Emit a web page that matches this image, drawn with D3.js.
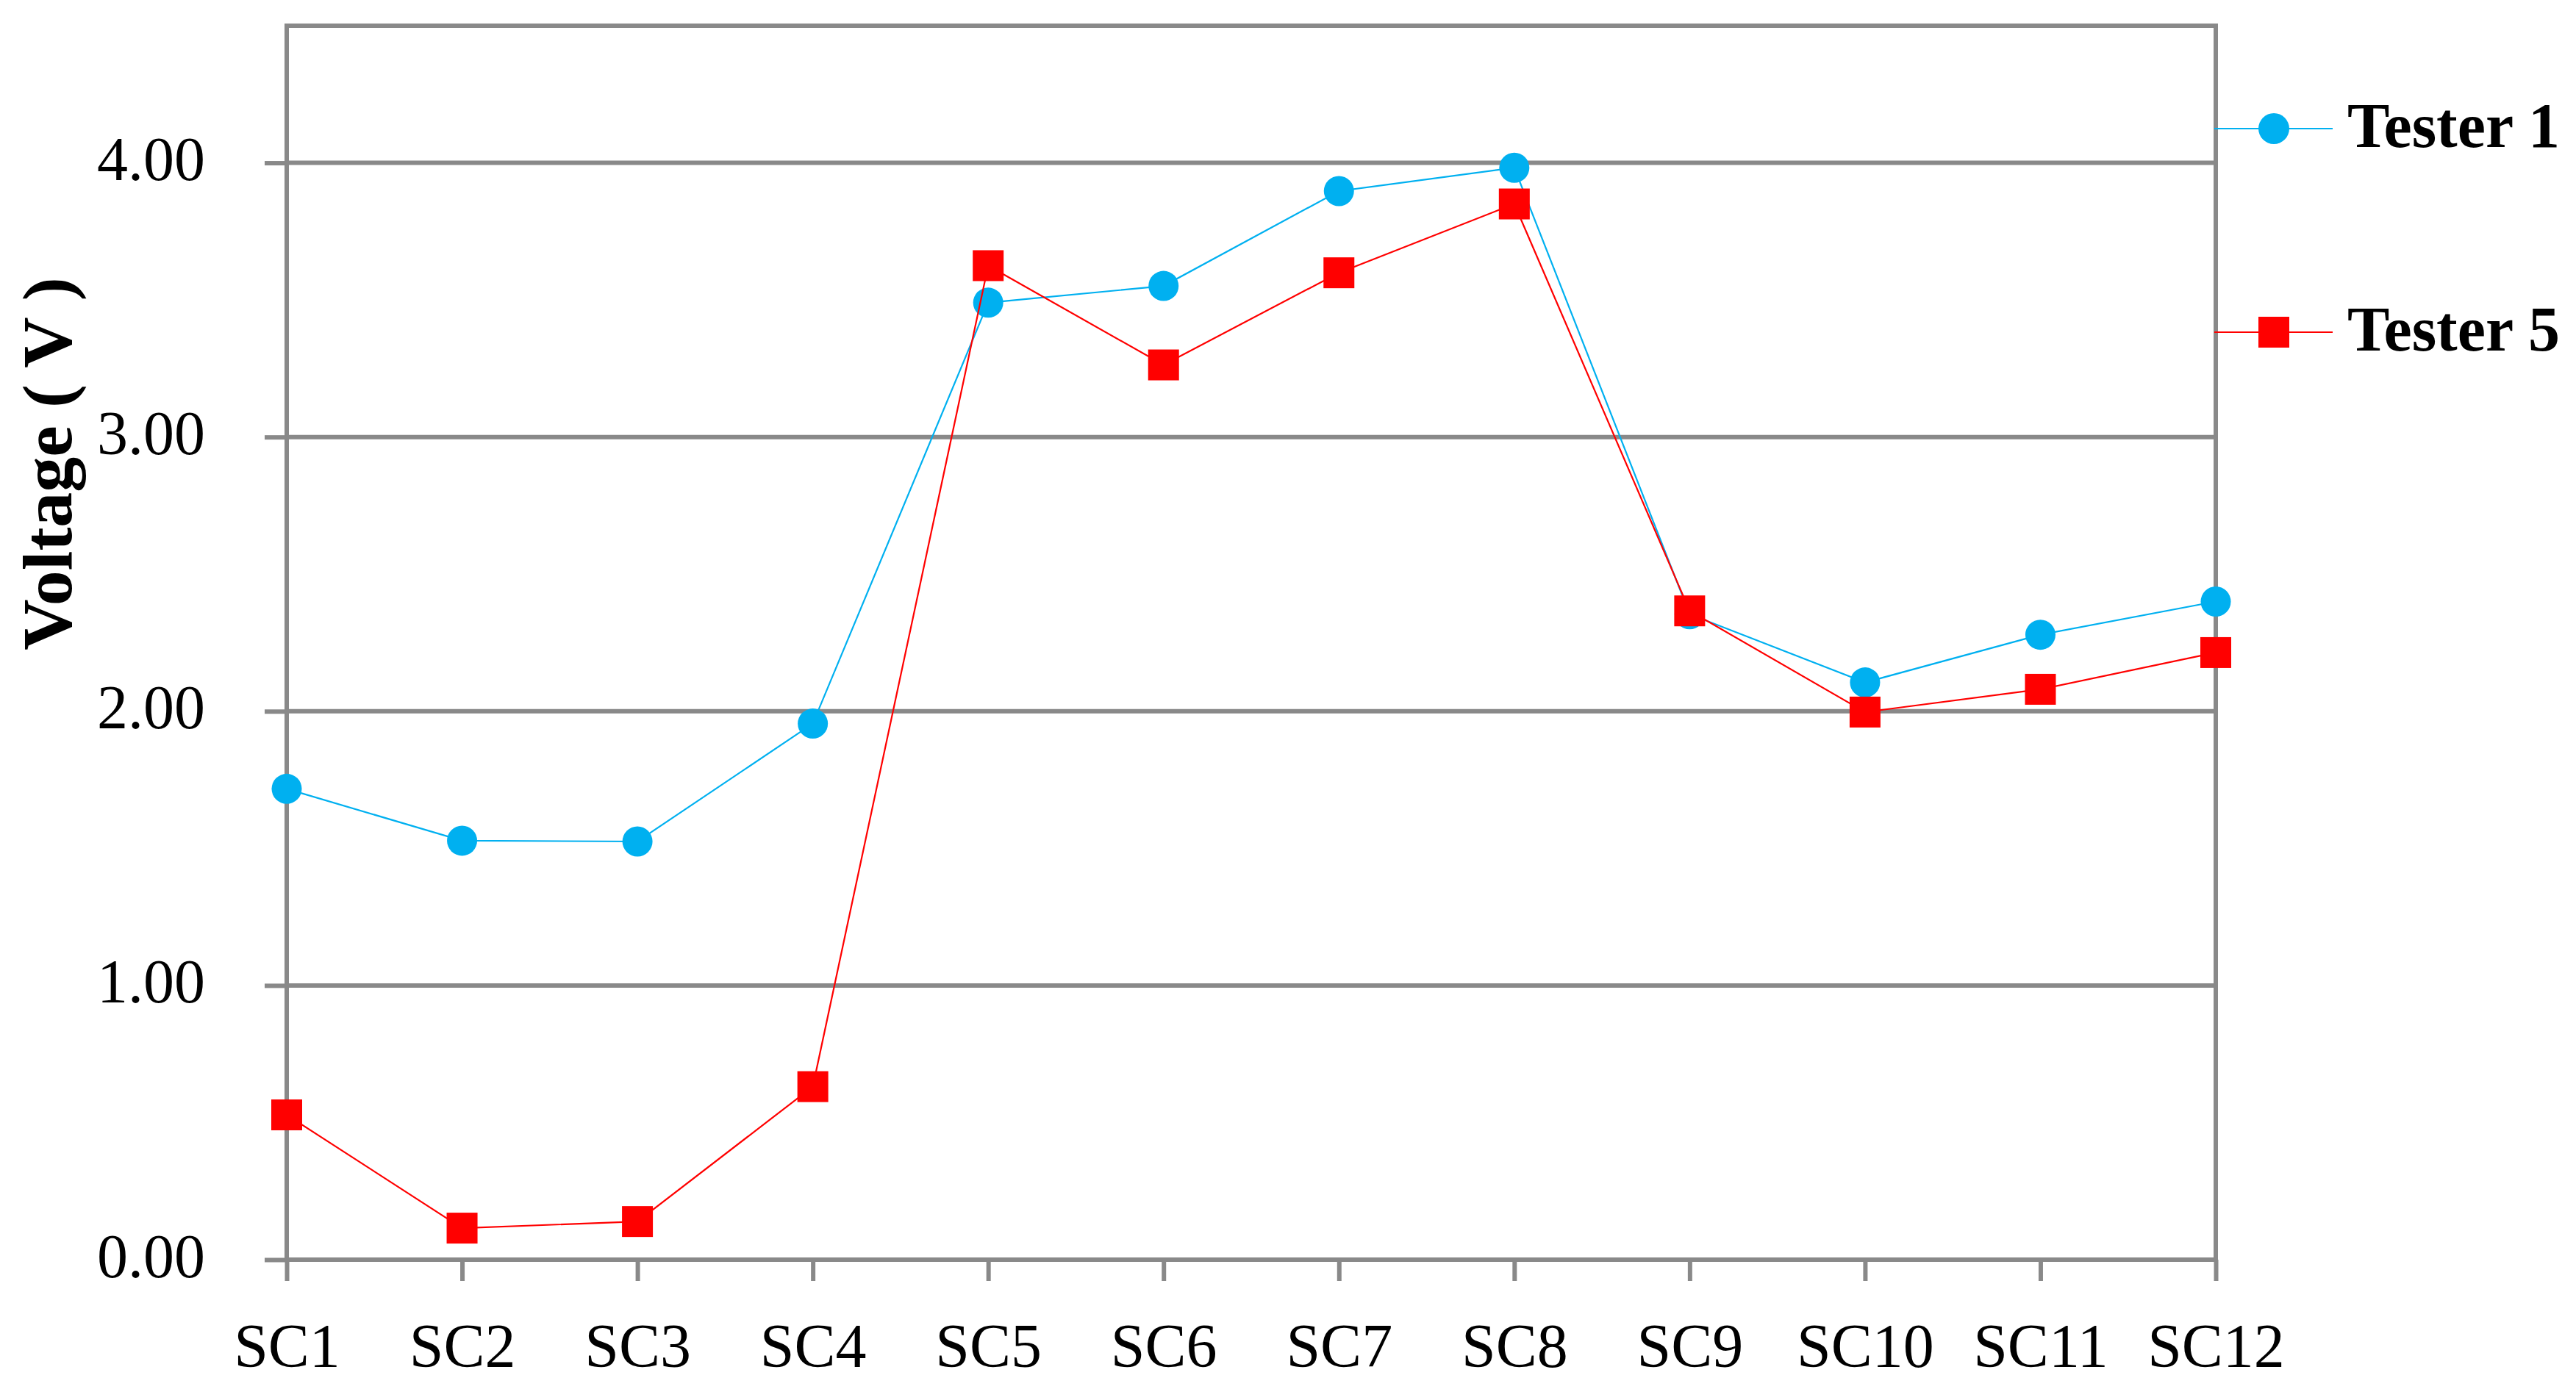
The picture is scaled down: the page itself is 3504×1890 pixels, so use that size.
<!DOCTYPE html>
<html>
<head>
<meta charset="utf-8">
<script src="https://cdn.jsdelivr.net/npm/d3@7"></script>
<style>
  body { margin: 0; background: #fff; }
  text { font-family: "Liberation Serif", "DejaVu Serif", serif; }
</style>
</head>
<body>
<script>
// Chart data
let categories = ["SC1", "SC2", "SC3", "SC4", "SC5", "SC6", "SC7", "SC8", "SC9", "SC10", "SC11", "SC12"];
let tester1 = [1.717, 1.528, 1.525, 1.955, 3.49, 3.551, 3.897, 3.982, 2.354, 2.105, 2.279, 2.4];
let tester5 = [0.528, 0.115, 0.139, 0.631, 3.625, 3.263, 3.599, 3.85, 2.366, 1.997, 2.08, 2.214];
let yTicks = [0, 1, 2, 3, 4];
let seriesNames = ["Tester 1", "Tester 5"];

let width = 3504;
let height = 1890;
let margin = { left: 390, right: 490, top: 35, bottom: 176 };
let gray = "#898989";
let colors = ["#00B0F0", "#FF0000"];

let svg = d3
  .select("body")
  .append("svg")
  .attr("width", width)
  .attr("height", height);

let xScale = d3
  .scalePoint()
  .domain(categories)
  .range([margin.left, width - margin.right]);

let yScale = d3
  .scaleLinear()
  .domain([0, 4.5])
  .range([height - margin.bottom, margin.top]);

// Gridlines
svg
  .append("g")
  .selectAll("line")
  .data(yTicks.concat([4.5]))
  .enter()
  .append("line")
  .attr("x1", margin.left)
  .attr("x2", width - margin.right)
  .attr("y1", (d) => yScale(d))
  .attr("y2", (d) => yScale(d))
  .attr("stroke", gray)
  .attr("stroke-width", 6);

// Right border
svg
  .append("line")
  .attr("x1", width - margin.right)
  .attr("x2", width - margin.right)
  .attr("y1", yScale(4.5) - 3)
  .attr("y2", yScale(0) + 3)
  .attr("stroke", gray)
  .attr("stroke-width", 6);

// Y axis
let yAxis = d3
  .axisLeft(yScale)
  .tickValues(yTicks)
  .tickSize(30)
  .tickPadding(81)
  .tickFormat(d3.format(".2f"));

let yG = svg
  .append("g")
  .attr("transform", "translate(" + margin.left + ",0)")
  .call(yAxis);
yG.select(".domain")
  .attr("d", "M0," + (yScale(0) + 3) + "V" + (yScale(4.5) - 3))
  .attr("stroke", gray)
  .attr("stroke-width", 6);
yG.selectAll(".tick line").attr("stroke", gray).attr("stroke-width", 6);
yG.selectAll(".tick text")
  .attr("font-family", "Liberation Serif")
  .attr("font-size", 84)
  .attr("fill", "#000")
  .attr("dy", 23);

// X axis
let xAxis = d3.axisBottom(xScale).tickSize(29).tickPadding(62);

let xG = svg
  .append("g")
  .attr("transform", "translate(0," + yScale(0) + ")")
  .call(xAxis);
xG.select(".domain").remove();
xG.selectAll(".tick line").attr("stroke", gray).attr("stroke-width", 6);
xG.selectAll(".tick text")
  .attr("font-family", "Liberation Serif")
  .attr("font-size", 84)
  .attr("fill", "#000")
  .attr("dy", 0)
  .attr("y", 146);

// Y axis title
svg
  .append("text")
  .attr("transform", "translate(97,631) rotate(-90)")
  .attr("text-anchor", "middle")
  .attr("font-size", 96)
  .attr("font-weight", "bold")
  .attr("fill", "#000")
  .text("Voltage ( V )");

// Series
let line = d3
  .line()
  .x((d, i) => xScale(categories[i]))
  .y((d) => yScale(d));

svg
  .append("path")
  .datum(tester1)
  .attr("d", line)
  .attr("fill", "none")
  .attr("stroke", colors[0])
  .attr("stroke-width", 2.2);

svg
  .append("g")
  .selectAll("circle")
  .data(tester1)
  .enter()
  .append("circle")
  .attr("cx", (d, i) => xScale(categories[i]))
  .attr("cy", (d) => yScale(d))
  .attr("r", 20.5)
  .attr("fill", colors[0]);

svg
  .append("path")
  .datum(tester5)
  .attr("d", line)
  .attr("fill", "none")
  .attr("stroke", colors[1])
  .attr("stroke-width", 2.2);

svg
  .append("g")
  .selectAll("rect")
  .data(tester5)
  .enter()
  .append("rect")
  .attr("x", (d, i) => xScale(categories[i]) - 21)
  .attr("y", (d) => yScale(d) - 21)
  .attr("width", 42)
  .attr("height", 42)
  .attr("fill", colors[1]);

// Legend
let legend = svg
  .append("g")
  .selectAll("g")
  .data(seriesNames)
  .enter()
  .append("g")
  .attr("transform", (d, i) => "translate(3012," + (175 + i * 277) + ")");

legend
  .append("line")
  .attr("x1", 0)
  .attr("x2", 161)
  .attr("stroke", (d, i) => colors[i])
  .attr("stroke-width", 2.2);

legend
  .filter((d, i) => i === 0)
  .append("circle")
  .attr("cx", 81)
  .attr("r", 21)
  .attr("fill", colors[0]);

legend
  .filter((d, i) => i === 1)
  .append("rect")
  .attr("x", 60)
  .attr("y", -21)
  .attr("width", 42)
  .attr("height", 42)
  .attr("fill", colors[1]);

legend
  .append("text")
  .attr("x", 181)
  .attr("y", 25)
  .attr("font-size", 86)
  .attr("font-weight", "bold")
  .attr("fill", "#000")
  .text((d) => d);
</script>
</body>
</html>
